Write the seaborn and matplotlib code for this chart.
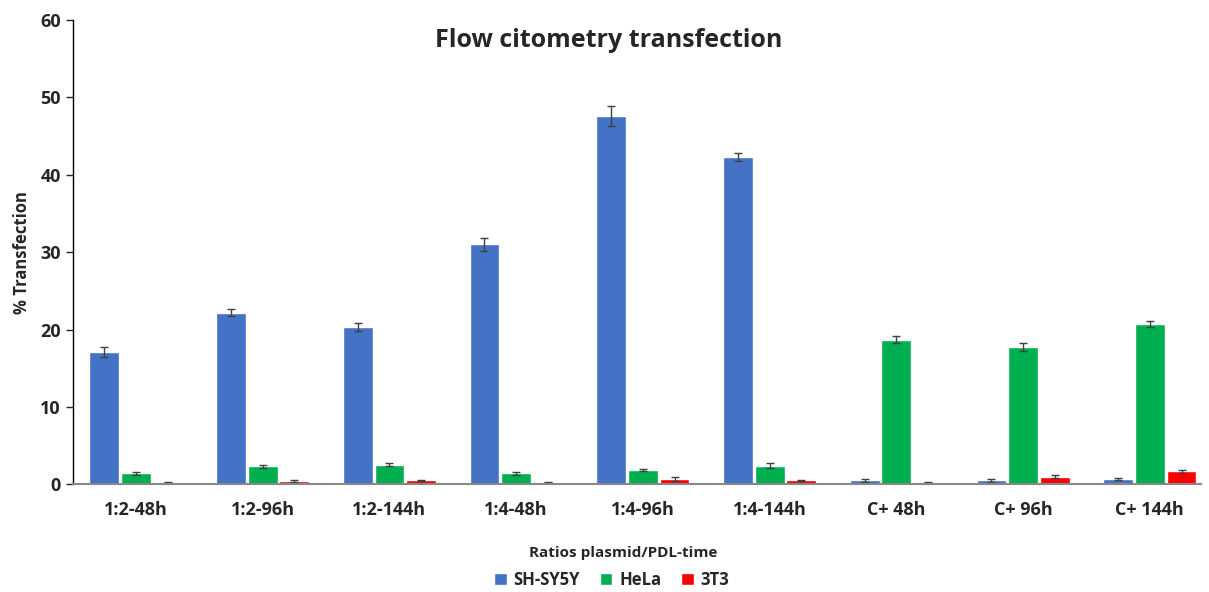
import pandas as pd
import seaborn as sns
import matplotlib.pyplot as plt
import numpy as np

# Categories and values
conditions = ["1:2-48h", "1:2-96h", "1:2-144h", "1:4-48h", "1:4-96h",
              "1:4-144h", "C+ 48h", "C+ 96h", "C+ 144h"]
cell_lines = ["SH-SY5Y", "HeLa", "3T3"]

shsy5y = [17.1, 22.2, 20.3, 31.0, 47.6, 42.3, 0.5, 0.5, 0.65]
hela = [1.4, 2.3, 2.55, 1.4, 1.8, 2.4, 18.7, 17.7, 20.7]
t3t3 = [0.2, 0.45, 0.5, 0.2, 0.65, 0.5, 0.2, 1.0, 1.65]

shsy5y_err = [0.7, 0.4, 0.55, 0.8, 1.3, 0.5, 0.15, 0.15, 0.15]
hela_err = [0.15, 0.2, 0.2, 0.2, 0.15, 0.3, 0.5, 0.5, 0.35]
t3t3_err = [0.05, 0.1, 0.1, 0.05, 0.25, 0.1, 0.05, 0.15, 0.15]

colors = ["#4472C4", "#00B050", "#FF0000"]

df = pd.DataFrame({
    "condition": conditions * 3,
    "line": np.repeat(cell_lines, len(conditions)),
    "value": shsy5y + hela + t3t3,
})
errors = [shsy5y_err, hela_err, t3t3_err]

sns.set_style("white")
plt.rcParams["font.family"] = ["Open Sans", "DejaVu Sans"]
plt.rcParams["font.weight"] = "bold"

fig, ax = plt.subplots(figsize=(12.09, 5.92), dpi=100)
sns.barplot(data=df, x="condition", y="value", hue="line", order=conditions,
            hue_order=cell_lines, palette=colors, width=0.75, gap=0.06,
            saturation=1, errorbar=None, ax=ax)

# error bars on top of each bar container
for cont, err in zip(ax.containers, errors):
    xs = [b.get_x() + b.get_width() / 2 for b in cont]
    hs = [b.get_height() for b in cont]
    ax.errorbar(xs, hs, yerr=err, fmt="none", ecolor="#404040",
                elinewidth=1, capsize=3, capthick=1)

ax.set_ylim(0, 60)
ax.set_yticks(range(0, 61, 10))
ax.set_xlim(-0.5, 8.4)
ax.tick_params(axis="y", labelsize=13, length=5, direction="out", left=True, width=1)
ax.tick_params(axis="x", labelsize=13, length=0, pad=12)
for lab in ax.get_xticklabels() + ax.get_yticklabels():
    lab.set_fontweight("bold")

sns.despine(ax=ax)
ax.spines["left"].set_color("black")
ax.spines["left"].set_linewidth(1)
ax.spines["bottom"].set_color("#888888")
ax.spines["bottom"].set_linewidth(1.5)

ax.set_ylabel("% Transfection", fontsize=12, fontweight="bold")
ax.yaxis.set_label_coords(-0.037, 0.5)
ax.set_xlabel("Ratios plasmid/PDL-time", fontsize=11, fontweight="bold")
ax.xaxis.set_label_coords(0.488, -0.132)
ax.set_title("Flow citometry transfection", fontsize=18, fontweight="bold",
             y=0.925, x=0.475)

ax.legend_.remove()
handles, labels = ax.get_legend_handles_labels()
fig.legend(handles, labels, loc="center", bbox_to_anchor=(0.506, 0.02), ncol=3,
           frameon=False, fontsize=12, handlelength=0.75, handleheight=0.75,
           handletextpad=0.4, columnspacing=1.2)

plt.subplots_adjust(left=0.06, right=0.993, top=0.966, bottom=0.182)
plt.savefig("out.png", dpi=100)
plt.close()
